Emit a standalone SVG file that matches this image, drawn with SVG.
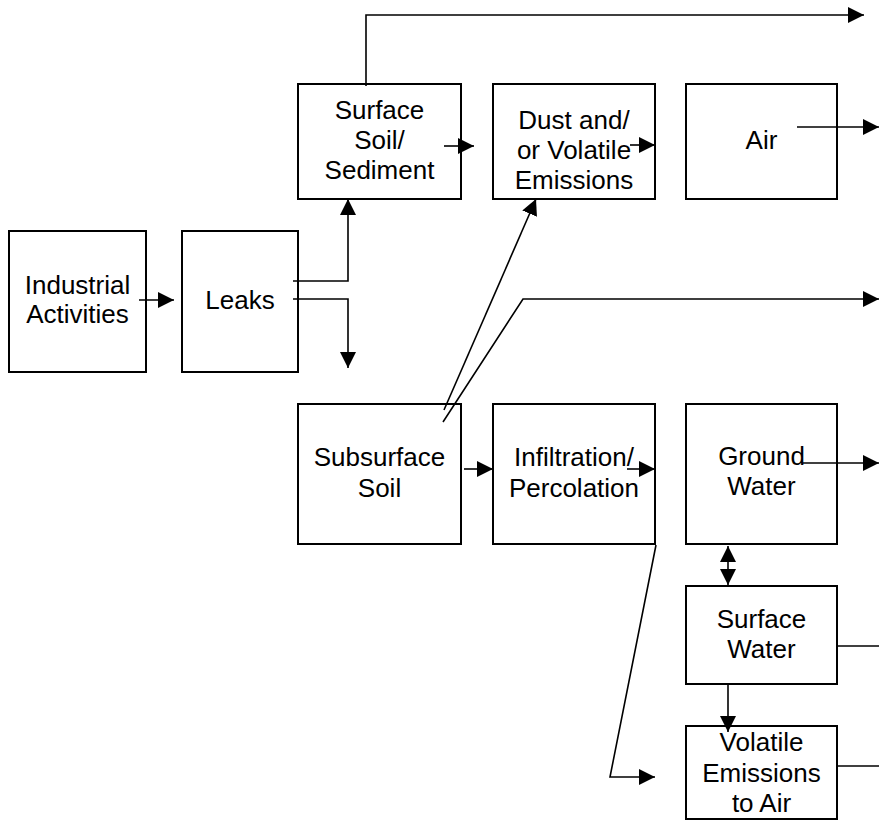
<svg xmlns="http://www.w3.org/2000/svg" width="879" height="820" viewBox="0 0 879 820">
<style>
.box{fill:#fff;stroke:#000;stroke-width:2}
.t{font-family:"Liberation Sans",Arial,sans-serif;font-size:26px;fill:#000;text-anchor:middle}
.c{fill:none;stroke:#000;stroke-width:1.6}
.a{marker-end:url(#ah)}
</style>
<defs>
<marker id="ah" markerUnits="userSpaceOnUse" markerWidth="16" markerHeight="16" viewBox="0 0 15 15" refX="15" refY="7.5" orient="auto-start-reverse">
<path d="M0,0 L15,7.5 L0,15 z" fill="#000"/>
</marker>
</defs>
<rect width="879" height="820" fill="#fff"/>
<g id="industrial"><rect class="box" x="9" y="231" width="137" height="141"/><text class="t" x="77.5" y="294">Industrial</text><text class="t" x="77.5" y="323">Activities</text></g>
<g id="leaks"><rect class="box" x="182" y="231" width="116" height="141"/><text class="t" x="240" y="309">Leaks</text></g>
<g id="surface-soil"><rect class="box" x="298" y="84" width="163" height="115"/><text class="t" x="379.5" y="119">Surface</text><text class="t" x="379.5" y="149">Soil/</text><text class="t" x="379.5" y="179">Sediment</text></g>
<g id="dust"><rect class="box" x="493" y="84" width="162" height="115"/><text class="t" x="574" y="129">Dust and/</text><text class="t" x="574" y="159">or Volatile</text><text class="t" x="574" y="189">Emissions</text></g>
<g id="air"><rect class="box" x="686" y="84" width="151" height="115"/><text class="t" x="761.5" y="149">Air</text></g>
<g id="subsurface"><rect class="box" x="298" y="404" width="163" height="140"/><text class="t" x="379.5" y="466">Subsurface</text><text class="t" x="379.5" y="497">Soil</text></g>
<g id="infiltration"><rect class="box" x="493" y="404" width="162" height="140"/><text class="t" x="574" y="466">Infiltration/</text><text class="t" x="574" y="497">Percolation</text></g>
<g id="groundwater"><rect class="box" x="686" y="404" width="151" height="140"/><text class="t" x="761.5" y="465">Ground</text><text class="t" x="761.5" y="495">Water</text></g>
<g id="surfacewater"><rect class="box" x="686" y="586" width="151" height="98"/><text class="t" x="761.5" y="628">Surface</text><text class="t" x="761.5" y="658">Water</text></g>
<g id="volatile"><rect class="box" x="686" y="726" width="151" height="93"/><text class="t" x="761.5" y="751">Volatile</text><text class="t" x="761.5" y="782">Emissions</text><text class="t" x="761.5" y="812">to Air</text></g>
<g id="connectors">
<path class="c a" d="M366,86 L366,15 L864,15"/>
<path class="c a" d="M444,146 L474,146"/>
<path class="c a" d="M630,145 L655,145"/>
<path class="c a" d="M797,127 L879,127"/>
<path class="c a" d="M139,300 L174,300"/>
<path class="c a" d="M293,281 L348,281 L348,199"/>
<path class="c a" d="M293,299 L348,299 L348,368"/>
<path class="c a" d="M444,410 L536,199"/>
<path class="c a" d="M443,422 L523,299 L879,299"/>
<path class="c a" d="M464,469 L493,469"/>
<path class="c a" d="M627,469 L655,469"/>
<path class="c a" d="M803,463 L879,463"/>
<path class="c a" d="M728,546 L728,585" marker-start="url(#ah)"/>
<path class="c a" d="M656,545 L610,777 L655,777"/>
<path class="c a" d="M728,684 L728,732"/>
<path class="c" d="M837,646 L879,646"/>
<path class="c" d="M837,766 L879,766"/>
</g>
</svg>
